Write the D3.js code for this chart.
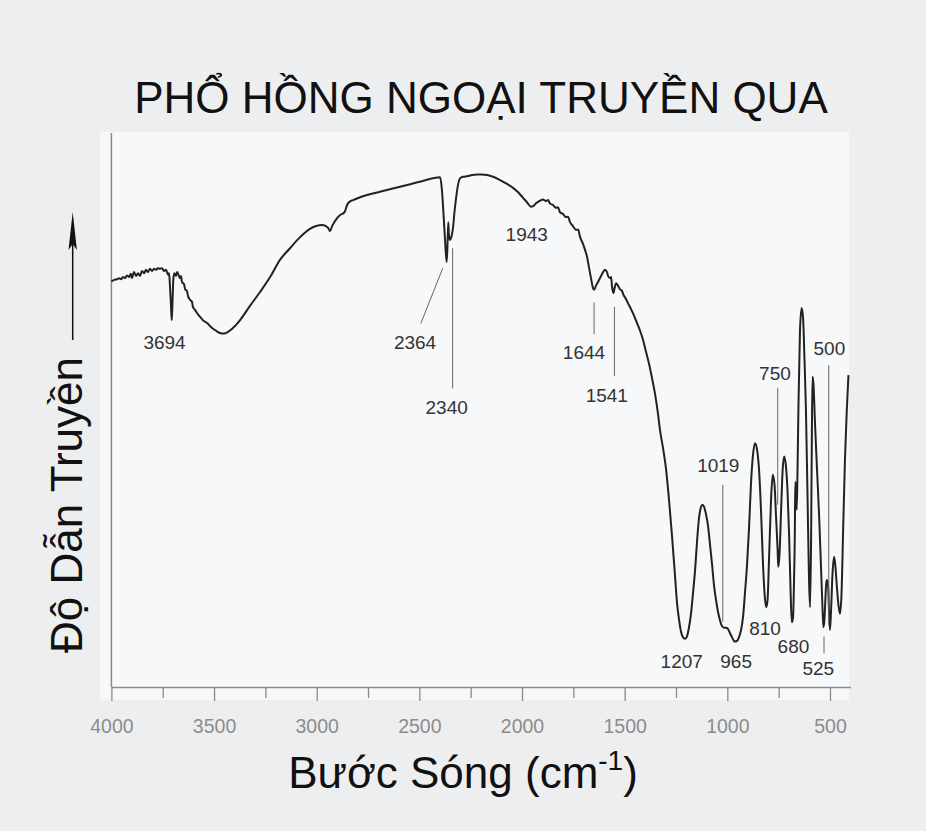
<!DOCTYPE html>
<html><head><meta charset="utf-8">
<script src="https://cdn.jsdelivr.net/npm/d3@7"></script>
<style>html,body{margin:0;padding:0;background:#edeef0;} svg{display:block;}</style>
</head><body><svg id="chart" width="926" height="831"></svg>
<script>
// ---- data ----
const wavenumber = [4000,3987,3973,3963,3953,3943,3934,3924,3914,3905,3900,3890,3880,3870,3861,3851,3841,3831,3822,3812,3802,3792,3783,3773,3763,3754,3744,3734,3724,3719,3715,3710,3706,3702,3698,3693,3685,3680,3673,3666,3661,3656,3646,3641,3632,3627,3617,3607,3603,3593,3583,3568,3554,3534,3515,3490,3471,3452,3432,3408,3374,3325,3276,3227,3179,3130,3081,3033,3003,2974,2955,2945,2935,2925,2911,2886,2867,2860,2852,2843,2823,2789,2755,2692,2594,2497,2399,2390,2382,2375,2367,2363,2359,2356,2351,2343,2336,2329,2321,2312,2302,2287,2268,2243,2219,2195,2170,2141,2107,2073,2044,2019,1995,1976,1956,1946,1932,1912,1898,1883,1873,1864,1849,1834,1825,1815,1800,1786,1776,1766,1752,1737,1727,1717,1703,1693,1683,1674,1664,1654,1649,1640,1630,1615,1605,1596,1586,1581,1571,1566,1562,1555,1549,1542,1532,1523,1513,1506,1493,1484,1469,1454,1440,1425,1410,1396,1381,1367,1352,1337,1328,1313,1298,1284,1269,1255,1245,1235,1225,1216,1206,1196,1187,1177,1167,1157,1148,1138,1128,1121,1113,1104,1094,1084,1074,1065,1055,1045,1036,1026,1016,1006,997,987,977,965,953,943,933,923,914,904,894,885,875,865,855,846,836,826,816,810,804,797,787,779,770,763,755,752,746,738,731,723,714,707,699,692,686,680,675,671,669,665,662,658,653,646,638,631,624,617,609,602,597,592,588,585,580,573,563,553,544,536,532,527,522,517,512,508,505,500,495,488,480,473,466,458,451,444,435,427,418,410];
const transmittance = [73.2,73.5,73.6,73.8,73.6,74.0,73.8,74.3,74.0,74.6,73.8,74.9,74.2,74.7,74.2,75.1,74.7,75.3,74.9,75.5,75.1,75.5,75.3,75.6,75.5,75.6,75.1,75.3,74.4,74.7,72.6,69.0,66.2,69.9,73.8,74.7,74.2,74.9,74.4,73.8,74.2,73.1,72.7,71.8,71.5,70.6,69.9,69.5,68.6,68.1,67.5,66.8,66.2,65.7,65.0,64.3,63.9,63.8,64.1,64.8,66.2,68.8,71.3,74.0,77.1,79.2,81.2,82.7,83.2,83.4,83.2,82.9,82.3,83.2,84.1,85.2,85.6,86.1,87.0,87.5,87.9,88.4,88.8,89.4,90.3,91.2,92.0,89.7,85.2,80.7,76.7,79.8,83.9,81.6,80.7,81.4,82.9,85.7,88.3,90.6,91.8,92.1,92.2,92.4,92.5,92.5,92.4,92.1,91.5,90.8,90.1,89.3,88.3,87.5,86.7,86.8,87.3,87.8,88.0,87.7,87.9,87.3,87.0,86.5,86.6,85.7,85.4,84.8,84.9,83.9,83.2,82.5,82.6,81.2,80.0,78.9,77.6,75.8,73.8,72.0,71.7,72.4,73.1,74.2,74.9,75.3,74.9,74.2,73.8,74.0,72.4,71.1,72.0,72.9,72.4,71.8,71.5,70.8,70.0,69.3,68.2,67.0,65.7,64.3,62.6,60.5,58.3,55.8,52.9,49.1,46.4,43.1,39.2,33.8,27.1,20.2,15.2,12.1,9.9,9.0,8.7,9.2,10.7,13.2,17.0,21.1,26.0,30.5,32.5,32.9,32.5,31.2,29.1,25.6,22.0,18.4,15.7,13.5,12.1,11.0,10.7,10.7,10.5,9.7,9.0,8.2,8.3,9.0,10.3,12.8,17.0,22.0,28.9,36.5,41.9,44.0,42.8,39.5,32.0,22.0,15.7,14.4,15.7,22.9,33.8,38.3,36.5,31.0,24.7,21.7,23.8,32.0,38.8,41.6,39.7,35.6,27.4,17.5,11.7,12.5,19.3,28.3,37.0,35.6,32.0,39.2,51.8,64.4,68.4,66.6,59.0,50.0,33.8,19.3,14.4,26.5,46.4,56.0,54.5,47.7,39.2,31.0,22.0,13.9,10.8,12.1,16.1,19.3,19.0,17.5,13.9,10.3,13.5,20.2,23.5,21.5,17.9,14.6,13.2,16.6,29.6,41.0,50.0,56.3];
const majorTicks = [4000, 3500, 3000, 2500, 2000, 1500, 1000, 500];
const minorTicks = [3750, 3250, 2750, 2250, 1750, 1250, 750];
const peakLabels = ["3694","2364","2340","1943","1644","1541","1019","1207","965","810","680","525","750","500"];
const titleText = "PHỔ HỒNG NGOẠI TRUYỀN QUA";
const yTitleText = "Độ Dẫn Truyền";
const xTitleMain = "Bước Sóng (cm";
const xTitleSup = "-1";
const xTitleEnd = ")";

// ---- layout of annotations (in data units) ----
const labelLayout = {
  "3694": {w: 3741, t: 62.3},
  "2364": {w: 2521, t: 62.3, line: [[2493, 65.6], [2386, 75.6]]},
  "2340": {w: 2367, t: 50.6, line: [[2338, 79.2], [2338, 53.9]]},
  "1943": {w: 1977, t: 81.8},
  "1644": {w: 1698, t: 60.5, line: [[1649, 69.4], [1649, 63.7]]},
  "1541": {w: 1587, t: 52.7, line: [[1550, 68.6], [1550, 56.1]]},
  "1019": {w: 1044, t: 40.1, line: [[1022, 36.5], [1022, 11.8]]},
  "1207": {w: 1222, t: 4.75},
  "965":  {w: 957,  t: 4.75},
  "810":  {w: 816,  t: 10.6},
  "680":  {w: 678,  t: 7.3},
  "525":  {w: 557,  t: 3.4, line: [[529, 9.1], [529, 6.1]]},
  "750":  {w: 768,  t: 56.6, line: [[754.5, 54], [754.5, 32.9]]},
  "500":  {w: 503,  t: 61.1, line: [[506, 58.1], [506, 11.2]]}
};

const svg = d3.select("#chart");
const font = "'Liberation Sans', Arial, Helvetica, sans-serif";

const x = d3.scaleLinear().domain([4000, 400]).range([111.4, 850.5]);
const y = d3.scaleLinear().domain([0, 100]).range([687, 133]);

// background
svg.append("rect").attr("width", 926).attr("height", 831).attr("fill", "#edeef0");
svg.append("rect").attr("x", 100).attr("y", 132).attr("width", 749).attr("height", 568).attr("fill", "#f7f8f9");

// left axis line
svg.append("line").attr("x1", x(4000)).attr("x2", x(4000)).attr("y1", y(100)).attr("y2", y(0))
  .attr("stroke", "#8a8a8a").attr("stroke-width", 1.5);

// bottom axis
const gx = svg.append("g").attr("transform", `translate(0,${y(0)})`)
  .call(d3.axisBottom(x).tickValues(majorTicks).tickSize(14).tickSizeOuter(0).tickPadding(18).tickFormat(d3.format("d")));
gx.select(".domain").attr("stroke", "#8a8a8a").attr("stroke-width", 1.6);
gx.selectAll(".tick line").attr("stroke", "#8a8a8a").attr("stroke-width", 1.3);
gx.selectAll(".tick text").attr("fill", "#8c8c8c").attr("font-family", font).attr("font-size", 19.5);

const gm = svg.append("g").attr("transform", `translate(0,${y(0)})`)
  .call(d3.axisBottom(x).tickValues(minorTicks).tickSize(11).tickSizeOuter(0).tickFormat(""));
gm.select(".domain").remove();
gm.selectAll(".tick line").attr("stroke", "#8a8a8a").attr("stroke-width", 1.3);

// spectrum
const pts = wavenumber.map((w, i) => [w, transmittance[i]]);
svg.append("path").datum(pts)
  .attr("d", d3.line().x(d => x(d[0])).y(d => y(d[1])).curve(d3.curveMonotoneX))
  .attr("fill", "none").attr("stroke", "#222").attr("stroke-width", 2).attr("stroke-linejoin", "round");

// annotations
peakLabels.forEach(lbl => {
  const L = labelLayout[lbl];
  if (L.line) {
    svg.append("line")
      .attr("x1", x(L.line[0][0])).attr("y1", y(L.line[0][1]))
      .attr("x2", x(L.line[1][0])).attr("y2", y(L.line[1][1]))
      .attr("stroke", "#666").attr("stroke-width", 1);
  }
  svg.append("text").attr("x", x(L.w)).attr("y", y(L.t)).attr("dy", "0.36em")
    .attr("text-anchor", "middle").attr("font-family", font).attr("font-size", 19)
    .attr("fill", "#333").text(lbl);
});

// title
svg.append("text").attr("x", 481).attr("y", 113).attr("text-anchor", "middle")
  .attr("font-family", font).attr("font-size", 44).attr("fill", "#111").text(titleText);

// y title
svg.append("text").attr("transform", "translate(82,505) rotate(-90)").attr("text-anchor", "middle")
  .attr("font-family", font).attr("font-size", 44).attr("fill", "#111").text(yTitleText);
// arrow
svg.append("line").attr("x1", 72.7).attr("x2", 72.7).attr("y1", 340).attr("y2", 240)
  .attr("stroke", "#111").attr("stroke-width", 1.5);
svg.append("path").attr("d", "M72.7,212 L68.5,250 L72.7,244 L76.9,250 Z").attr("fill", "#111");

// x title
const xt = svg.append("text").attr("x", 463).attr("y", 788).attr("text-anchor", "middle")
  .attr("font-family", font).attr("font-size", 44).attr("fill", "#111");
xt.append("tspan").text(xTitleMain);
xt.append("tspan").attr("font-size", 28).attr("dy", -18).text(xTitleSup);
xt.append("tspan").attr("dy", 18).text(xTitleEnd);
</script>
</body></html>
